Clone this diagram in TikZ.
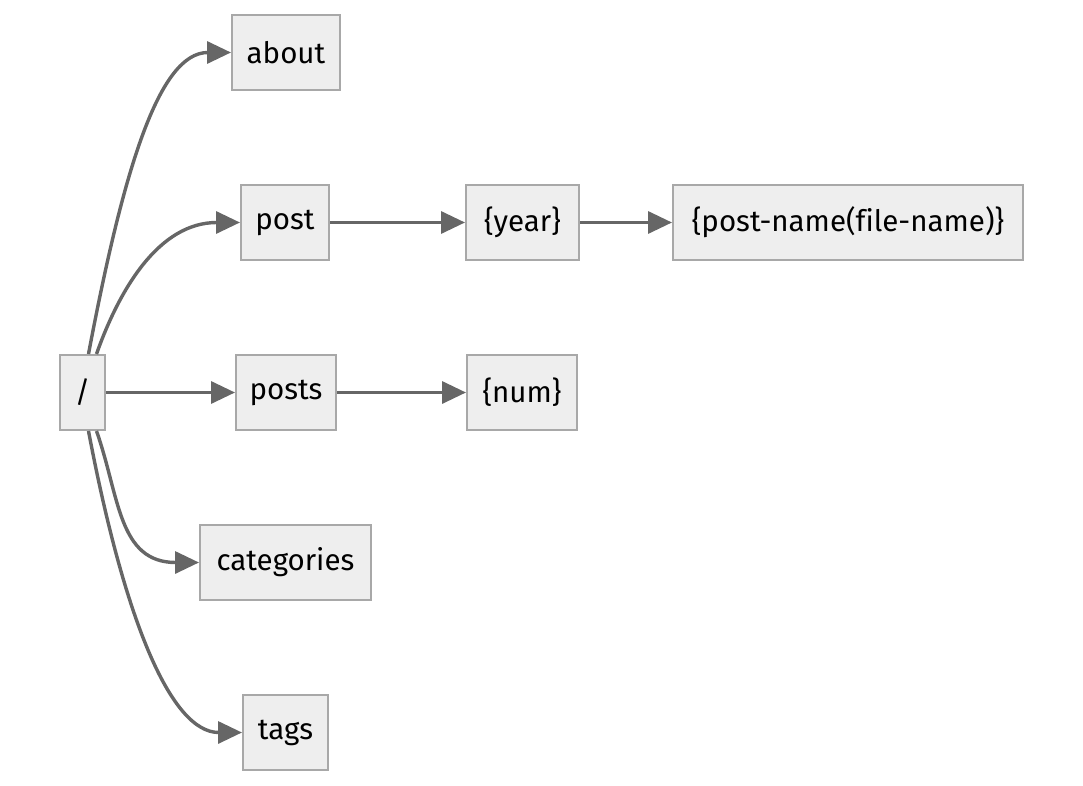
\documentclass[tikz,border=0pt]{standalone}
\usepackage{fontspec}
\setmainfont[Ligatures=NoCommon]{Fira Sans}
\usetikzlibrary{arrows.meta}
\definecolor{boxfill}{HTML}{EEEEEE}
\definecolor{boxline}{HTML}{A8A8A8}
\definecolor{edgecol}{HTML}{666666}
\begin{document}
\begin{tikzpicture}[x=1pt,y=-1pt,
  box/.style={draw=boxline,line width=2pt,fill=boxfill,inner sep=0pt,minimum height=75pt,
    font=\fontsize{29.5}{34}\selectfont,text=black},
  edge/.style={draw=edgecol,line width=3.4pt,-{Triangle[length=24pt,width=22pt]}}]
\useasboundingbox (0,0) rectangle (1083,786);
\node[box,minimum width=108pt] (about) at (286,52.5) {about};
\node[box,minimum width=88pt] (post) at (285,222.5) {post};
\node[box,minimum width=113pt] (year) at (522.5,222.5) {\{year\}};
\node[box,minimum width=350pt] (pname) at (848,222.5) {\{post-name(file-name)\}};
\node[box,minimum width=45pt] (root) at (82.5,392.5) {/};
\node[box,minimum width=100pt] (posts) at (286,392.5) {posts};
\node[box,minimum width=110pt] (num) at (522,392.5) {\{num\}};
\node[box,minimum width=171pt] (cats) at (285.5,562.5) {categories};
\node[box,minimum width=85pt] (tags) at (285.5,732.5) {tags};
\coordinate (r1) at ([xshift=6pt]root.north);
\coordinate (r2) at ([xshift=14pt]root.north);
\coordinate (r3) at ([xshift=14pt]root.south);
\coordinate (r4) at ([xshift=6pt]root.south);
\draw[edge] (r1) .. controls +(35,-185) and +(-72,0) .. (about.west);
\draw[edge] (r2) .. controls +(23,-65) and +(-81,0) .. (post.west);
\draw[edge] (r3) .. controls +(23,65) and +(-81,0) .. (cats.west);
\draw[edge] (r4) .. controls +(35,185) and +(-72,0) .. (tags.west);
\draw[edge] (root.east) -- (posts.west);
\draw[edge] (post.east) -- (year.west);
\draw[edge] (year.east) -- (pname.west);
\draw[edge] (posts.east) -- (num.west);
\end{tikzpicture}
\end{document}
